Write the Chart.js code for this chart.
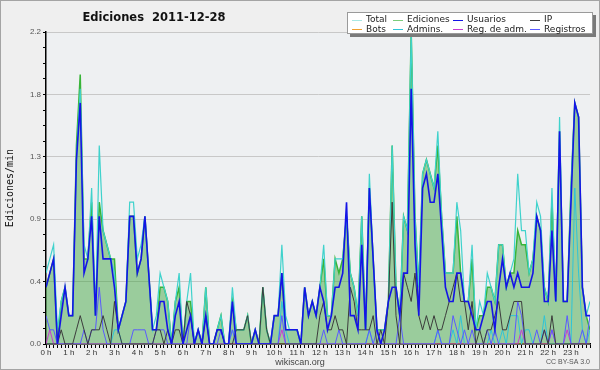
<!DOCTYPE html>
<html>
<head>
<meta charset="utf-8">
<script src="https://cdn.jsdelivr.net/npm/chart.js@4"></script>
<style>
html, body { margin: 0; padding: 0; background: #efefef; }
</style>
</head>
<body>
<canvas id="chart" width="600" height="370"></canvas>
<script>
// 10-minute slots, edits per minute
const hourLabels = ['0 h','1 h','2 h','3 h','4 h','5 h','6 h','7 h','8 h','9 h','10 h','11 h',
                    '12 h','13 h','14 h','15 h','16 h','17 h','18 h','19 h','20 h','21 h','22 h','23 h'];
const yLabels = ['0.0', '0.4', '0.9', '1.3', '1.8', '2.2'];

const total = [
  0.5,0.6,0.7,0.1,0.3,0.4,  0.2,0.2,1.3,1.8,0.7,0.6,  1.1,0.2,1.4,0.8,0.7,0.6,  0.5,0.1,0.2,0.3,1.0,1.0,
  0.6,0.7,0.9,0.5,0.1,0.2,  0.5,0.4,0.3,0.0,0.3,0.5,  0.0,0.3,0.5,0.0,0.1,0.0,  0.4,0.0,0.0,0.1,0.2,0.0,
  0.0,0.4,0.1,0.1,0.1,0.2,  0.0,0.1,0.0,0.4,0.1,0.0,  0.2,0.2,0.7,0.2,0.1,0.1,  0.1,0.0,0.4,0.2,0.3,0.2,
  0.4,0.7,0.2,0.2,0.6,0.6,  0.6,0.9,0.5,0.4,0.2,0.9,  0.1,1.2,0.6,0.1,0.1,0.1,  0.3,1.4,0.4,0.2,0.9,0.8,
  2.2,0.9,0.4,1.2,1.3,1.2,  1.1,1.5,0.9,0.5,0.5,0.5,  1.0,0.8,0.3,0.3,0.7,0.1,  0.3,0.2,0.5,0.4,0.3,0.7,
  0.7,0.4,0.5,0.6,1.2,0.8,  0.8,0.5,0.6,1.0,0.9,0.4,  0.3,1.1,0.3,1.6,0.3,0.3,  1.1,1.7,1.6,0.4,0.2,0.3
];
const ediciones = [
  0.4,0.5,0.6,0.0,0.3,0.4,  0.2,0.2,1.4,1.9,0.6,0.6,  1.0,0.2,1.0,0.8,0.7,0.6,  0.6,0.1,0.2,0.3,0.9,0.9,
  0.5,0.6,0.9,0.5,0.1,0.1,  0.4,0.4,0.3,0.0,0.3,0.4,  0.0,0.3,0.3,0.0,0.1,0.0,  0.4,0.0,0.0,0.1,0.2,0.0,
  0.0,0.3,0.1,0.1,0.1,0.2,  0.0,0.1,0.0,0.4,0.1,0.0,  0.2,0.2,0.5,0.1,0.1,0.1,  0.1,0.0,0.4,0.2,0.3,0.2,
  0.4,0.6,0.2,0.2,0.6,0.5,  0.6,0.9,0.5,0.4,0.2,0.9,  0.1,1.1,0.6,0.1,0.1,0.1,  0.3,1.4,0.4,0.2,0.9,0.8,
  2.2,0.9,0.4,1.2,1.3,1.2,  1.1,1.4,0.9,0.5,0.5,0.5,  0.9,0.5,0.3,0.3,0.6,0.1,  0.2,0.2,0.4,0.4,0.3,0.7,
  0.7,0.4,0.5,0.5,0.8,0.7,  0.7,0.5,0.6,0.9,0.8,0.4,  0.3,1.0,0.3,1.5,0.3,0.3,  1.1,1.7,1.6,0.4,0.2,0.1
];
const usuarios = [
  0.4,0.5,0.6,0.0,0.2,0.4,  0.2,0.2,1.3,1.7,0.5,0.6,  0.9,0.2,0.9,0.6,0.6,0.6,  0.4,0.1,0.2,0.3,0.9,0.9,
  0.5,0.6,0.9,0.5,0.1,0.1,  0.3,0.3,0.1,0.0,0.2,0.3,  0.0,0.1,0.2,0.0,0.1,0.0,  0.2,0.0,0.0,0.1,0.1,0.0,
  0.0,0.3,0.0,0.0,0.0,0.0,  0.0,0.1,0.0,0.0,0.0,0.0,  0.2,0.2,0.5,0.1,0.1,0.1,  0.1,0.0,0.4,0.2,0.3,0.2,
  0.4,0.3,0.1,0.2,0.4,0.4,  0.5,1.0,0.2,0.2,0.1,0.7,  0.1,1.1,0.6,0.1,0.0,0.1,  0.3,0.4,0.4,0.2,0.5,0.5,
  1.8,0.7,0.2,1.1,1.2,1.0,  1.0,1.2,0.8,0.4,0.3,0.3,  0.5,0.5,0.3,0.3,0.2,0.1,  0.1,0.2,0.3,0.3,0.1,0.4,
  0.6,0.4,0.5,0.4,0.5,0.4,  0.4,0.4,0.5,0.9,0.8,0.3,  0.3,0.8,0.3,1.5,0.3,0.3,  1.0,1.7,1.6,0.4,0.2,0.2
];
const ip = [
  0.0,0.0,0.0,0.0,0.1,0.0,  0.0,0.0,0.1,0.2,0.1,0.0,  0.1,0.1,0.1,0.2,0.1,0.0,  0.3,0.1,0.0,0.0,0.0,0.0,
  0.0,0.0,0.0,0.0,0.0,0.1,  0.1,0.0,0.1,0.0,0.1,0.1,  0.0,0.3,0.2,0.0,0.0,0.0,  0.2,0.0,0.0,0.1,0.1,0.0,
  0.0,0.0,0.1,0.1,0.1,0.2,  0.0,0.0,0.0,0.4,0.1,0.0,  0.0,0.0,0.0,0.0,0.0,0.0,  0.0,0.0,0.0,0.0,0.0,0.0,
  0.2,0.3,0.1,0.1,0.2,0.1,  0.1,0.0,0.4,0.3,0.1,0.1,  0.1,0.1,0.2,0.0,0.1,0.0,  0.3,1.0,0.2,0.0,0.5,0.4,
  0.3,0.5,0.2,0.1,0.2,0.1,  0.2,0.1,0.1,0.2,0.3,0.4,  0.5,0.3,0.3,0.1,0.3,0.0,  0.1,0.0,0.1,0.1,0.2,0.3,
  0.1,0.1,0.2,0.3,0.3,0.3,  0.0,0.0,0.0,0.0,0.0,0.1,  0.0,0.2,0.0,0.0,0.0,0.0,  0.0,0.0,0.0,0.0,0.0,0.0
];
const bots = [
  0,0,0,0,0,0, 0,0,0,0,0,0, 0,0,0,0,0,0, 0,0,0,0,0,0, 0,0,0,0,0,0, 0,0,0,0,0,0,
  0,0,0,0,0,0, 0,0,0,0,0,0, 0,0,0,0,0,0, 0,0,0,0,0,0, 0,0,0,0,0,0, 0,0,0,0,0,0,
  0,0,0,0,0,0, 0,0,0,0,0,0, 0,0,0,0,0,0, 0,0,0,0,0,0, 0,0,0,0,0,0, 0,0,0,0,0,0,
  0,0,0,0,0,0, 0,0,0,0,0,0, 0,0,0,0,0,0, 0,0,0,0,0,0, 0,0,0,0,0,0, 0,0,0,0,0,0
];
const admins = [
  0,0,0,0,0,0, 0,0,0,0,0,0, 0,0,0,0,0,0, 0.1,0.1,0,0,0,0,
  0,0,0,0,0,0, 0,0,0,0,0,0, 0,0,0,0,0,0, 0,0,0,0,0,0,
  0,0.1,0,0,0,0, 0,0,0,0,0,0, 0,0,0.3,0.1,0,0, 0,0,0,0,0,0,
  0,0,0,0,0,0, 0,0,0,0,0,0, 0,0.1,0,0,0,0, 0,0,0,0,0,0,
  0,0,0,0,0,0, 0,0.1,0,0,0,0.1, 0,0.2,0,0,0,0, 0,0,0,0.1,0,0,
  0.1,0,0.2,0.2,0.2,0, 0.1,0.1,0,0,0,0.2, 0,0,0,0,0,0, 0,1.1,0.5,0.1,0,0.1
];
const regAdm = [
  0,0.1,0,0,0,0, 0,0,0,0,0,0, 0,0,0,0,0,0, 0,0,0,0,0,0,
  0,0,0,0,0,0, 0,0,0,0,0,0, 0,0,0,0,0,0, 0,0,0,0,0,0,
  0,0,0,0,0,0, 0,0,0,0,0,0, 0,0,0.1,0,0,0, 0,0,0,0,0,0,
  0,0,0,0,0,0, 0,0,0,0,0,0, 0,0,0,0,0,0, 0,0,0,0,0,0,
  0,0,0,0,0,0, 0,0,0,0,0,0, 0,0,0,0,0,0, 0,0,0,0,0,0,
  0,0,0,0,0,0.1, 0,0,0,0,0,0, 0,0.1,0,0,0,0.1, 0,0,0,0,0,0
];
const registros = [
  0.2,0.1,0.1,0,0,0, 0,0,0,0,0.1,0, 0.1,0.1,0.4,0.1,0,0, 0,0,0,0,0,0.1,
  0.1,0.1,0.1,0,0,0.1, 0.1,0.1,0,0,0,0, 0,0,0.2,0,0.1,0, 0,0,0,0,0.1,0,
  0,0.1,0,0,0,0, 0,0,0,0,0,0, 0,0,0.2,0,0,0, 0,0,0,0,0,0,
  0,0.1,0,0,0,0.1, 0,0,0,0,0,0, 0,0.1,0,0.1,0,0, 0,0,0,0.2,0,0,
  0,0,0,0,0,0, 0,0.1,0,0,0,0.2, 0.1,0,0.1,0,0.1,0, 0,0,0.1,0,0.1,0,
  0,0,0,0,0.3,0.2, 0,0,0,0.1,0,0.1, 0,0.1,0,0,0,0.2, 0,0,0,0.1,0,0.2
];

const pts = arr => arr.map((v, i) => ({ x: i, y: v }));

const uiFont = '"Liberation Sans", Arial, sans-serif';

const decor = {
  id: 'decor',
  beforeDraw(chart) {
    const { ctx, chartArea: a } = chart;
    ctx.save();
    ctx.fillStyle = '#efefef';
    ctx.fillRect(0, 0, 600, 370);
    ctx.fillStyle = '#eef0f2';
    ctx.fillRect(a.left, a.top, a.right - a.left, a.bottom - a.top);
    ctx.restore();
  },
  afterDraw(chart) {
    const ctx = chart.ctx;
    ctx.save();
    // frame
    ctx.strokeStyle = '#a4a4a4';
    ctx.lineWidth = 1;
    ctx.strokeRect(0.5, 0.5, 599, 369);

    // title
    ctx.fillStyle = '#111';
    ctx.font = 'bold 11.5px "DejaVu Sans"';
    ctx.textAlign = 'center';
    ctx.textBaseline = 'alphabetic';
    ctx.fillText('Ediciones  2011-12-28', 154, 21);

    // legend box
    ctx.fillStyle = '#7a7a7a';
    ctx.fillRect(350, 15, 246, 22);
    ctx.fillStyle = '#ffffff';
    ctx.fillRect(347, 12, 246, 22);
    ctx.strokeStyle = '#9a9a9a';
    ctx.strokeRect(347.5, 12.5, 245, 21);

    const colX = [352, 393, 453, 530];
    const rowY = [19.5, 29];
    ctx.font = '9px "DejaVu Sans"';
    ctx.textAlign = 'left';
    ctx.textBaseline = 'middle';
    chart.data.datasets.forEach((ds, k) => {
      const x = colX[k % 4], y = rowY[Math.floor(k / 4)];
      ctx.strokeStyle = ds.legendColor;
      ctx.beginPath();
      ctx.moveTo(x, Math.round(y) + 0.5);
      ctx.lineTo(x + 10, Math.round(y) + 0.5);
      ctx.stroke();
      ctx.fillStyle = '#222';
      ctx.fillText(ds.label, x + 14, y + 0.5);
    });

    // footer
    ctx.textBaseline = 'alphabetic';
    ctx.fillStyle = '#444';
    ctx.font = '9px ' + uiFont;
    ctx.textAlign = 'center';
    ctx.fillText('wikiscan.org', 300, 365);
    ctx.fillStyle = '#555';
    ctx.font = '7px ' + uiFont;
    ctx.textAlign = 'right';
    ctx.fillText('CC BY-SA 3.0', 590, 364);
    ctx.restore();
  }
};

const line = (label, data, color, width, order, legendColor) => ({
  label, data: pts(data), borderColor: color, borderWidth: width,
  pointRadius: 0, fill: false, tension: 0, order, legendColor: legendColor || color
});

const ds = [
  line('Total', total, '#3fd2cc', 1.2, 7, '#a8e8e4'),
  Object.assign(line('Ediciones', ediciones, '#38b438', 1.5, 8, '#7ccc7c'),
    { fill: 'origin', backgroundColor: 'rgba(50,160,50,0.45)' }),
  line('Usuarios', usuarios, '#1414e6', 1.6, 1),
  line('IP', ip, '#3c3c3c', 1, 2),
  line('Bots', bots, '#f0a030', 1, 6),
  line('Admins.', admins, '#2ec4d8', 1, 5),
  line('Reg. de adm.', regAdm, '#c83cd0', 1, 4),
  line('Registros', registros, '#5a5aff', 1, 3)
];

new Chart(document.getElementById('chart'), {
  type: 'line',
  data: { datasets: ds },
  options: {
    responsive: false,
    animation: false,
    layout: { padding: { top: 32, right: 10, left: 0, bottom: 0 } },
    plugins: { legend: { display: false }, title: { display: false }, tooltip: { enabled: false } },
    scales: {
      x: {
        type: 'linear', min: 0, max: 143, z: 1,
        afterBuildTicks: s => { s.ticks = total.map((v, i) => ({ value: i })); },
        afterFit: s => { s.height = 26; },
        grid: { drawOnChartArea: false, color: '#000', tickLength: 4 },
        border: { color: '#000', width: 1.5 },
        ticks: {
          autoSkip: false, maxRotation: 0, padding: 0,
          color: '#333', font: { family: uiFont, size: 8 },
          callback: v => (v % 6 === 0 ? hourLabels[v / 6] : '')
        }
      },
      y: {
        min: 0, max: 2.2,
        afterBuildTicks: s => { s.ticks = Array.from({ length: 21 }, (_, k) => ({ value: k * 0.11 })); },
        afterFit: s => { s.width = 46; },
        grid: {
          color: c => (c.index % 4 === 0 ? '#c8c8c8' : 'rgba(0,0,0,0)'),
          tickColor: '#000', tickLength: 3
        },
        border: { color: '#000', width: 1.5 },
        ticks: {
          autoSkip: false, padding: 2,
          color: '#555', font: { family: uiFont, size: 8 },
          callback: (v, i) => (i % 4 === 0 ? yLabels[i / 4] : '')
        },
        title: {
          display: true, text: 'Ediciones/min', color: '#111',
          font: { family: '"DejaVu Sans Mono"', size: 10 },
          padding: { top: 4, bottom: 0 }
        }
      }
    }
  },
  plugins: [decor]
});
</script>
</body>
</html>
